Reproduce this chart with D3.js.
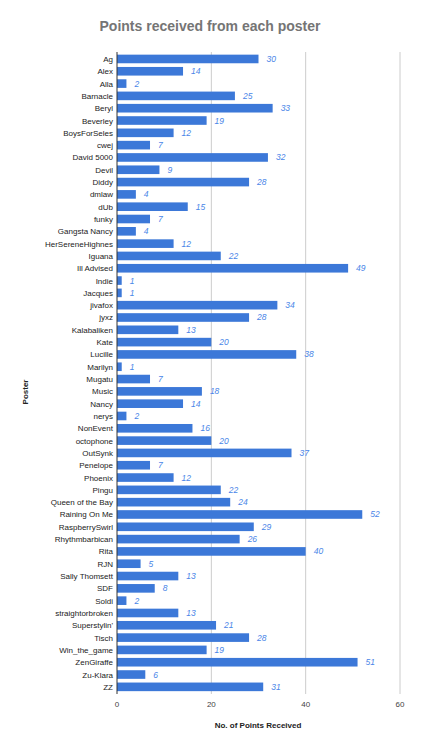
<!DOCTYPE html>
<html><head><meta charset="utf-8">
<script src="https://cdn.jsdelivr.net/npm/d3@7"></script>
<style>body{margin:0;background:#fff}text{font-family:"Liberation Sans",Arial,sans-serif}</style>
</head><body><div id="chart"></div>
<script>
// Data
const posters = ["Ag","Alex","Alla","Barnacle","Beryl","Beverley","BoysForSeles","cwej","David 5000","Devil","Diddy","dmlaw","dUb","funky","Gangsta Nancy","HerSereneHighnes","Iguana","Ill Advised","Indie","Jacques","jivafox","jyxz","Kalabaliken","Kate","Lucille","Marilyn","Mugatu","Music","Nancy","nerys","NonEvent","octophone","OutSynk","Penelope","Phoenix","Pingu","Queen of the Bay","Raining On Me","RaspberrySwirl","Rhythmbarbican","Rita","RJN","Sally Thomsett","SDF","Soldi","straightorbroken","Superstylin'","Tisch","Win_the_game","ZenGiraffe","Zu-Klara","ZZ"];
const points = [30,14,2,25,33,19,12,7,32,9,28,4,15,7,4,12,22,49,1,1,34,28,13,20,38,1,7,18,14,2,16,20,37,7,12,22,24,52,29,26,40,5,13,8,2,13,21,28,19,51,6,31];
const xTicks = [0,20,40,60];

const width = 421, height = 750;
const svg = d3.select("#chart").append("svg").attr("width", width).attr("height", height);

const x = d3.scaleLinear().domain([0, 60]).range([117, 400]);
const y = d3.scaleBand().domain(posters).range([52.8, 693]).paddingInner(0.3).paddingOuter(0.15);

// Gridlines
svg.selectAll(".grid").data(xTicks.slice(1)).enter().append("line")
  .attr("x1", d => x(d)).attr("x2", d => x(d))
  .attr("y1", 52).attr("y2", 694)
  .attr("stroke", "#cccccc").attr("stroke-width", 1);

// Bars
svg.selectAll(".bar").data(posters).enter().append("rect")
  .attr("x", x(0)).attr("y", d => y(d))
  .attr("width", (d, i) => x(points[i]) - x(0))
  .attr("height", y.bandwidth())
  .attr("fill", "#3c78d8");

// Value labels
svg.selectAll(".val").data(posters).enter().append("text")
  .attr("x", (d, i) => x(points[i]) + 8)
  .attr("y", d => y(d) + y.bandwidth() / 2 + 3)
  .attr("font-size", 8.5).attr("font-style", "italic").attr("fill", "#4a86e8")
  .text((d, i) => points[i]);

// Zero axis line
svg.append("line").attr("x1", x(0)).attr("x2", x(0)).attr("y1", 52).attr("y2", 694)
  .attr("stroke", "#333").attr("stroke-width", 1);

// Category labels
svg.selectAll(".cat").data(posters).enter().append("text")
  .attr("x", x(0) - 4).attr("y", d => y(d) + y.bandwidth() / 2 + 3)
  .attr("text-anchor", "end").attr("font-size", 8).attr("fill", "#222")
  .text(d => d);

// X tick labels
svg.selectAll(".xt").data(xTicks).enter().append("text")
  .attr("x", d => x(d)).attr("y", 707)
  .attr("text-anchor", "middle").attr("font-size", 8).attr("fill", "#444")
  .text(d => d);

// Titles
svg.append("text").attr("x", 210).attr("y", 31).attr("text-anchor", "middle")
  .attr("font-size", 14).attr("font-weight", "bold").attr("fill", "#757575")
  .text("Points received from each poster");
svg.append("text").attr("x", 258).attr("y", 728).attr("text-anchor", "middle")
  .attr("font-size", 8).attr("font-weight", "bold").attr("fill", "#222")
  .text("No. of Points Received");
svg.append("text").attr("transform", "translate(28,392) rotate(-90)").attr("text-anchor", "middle")
  .attr("font-size", 8).attr("font-weight", "bold").attr("fill", "#222")
  .text("Poster");
</script></body></html>
